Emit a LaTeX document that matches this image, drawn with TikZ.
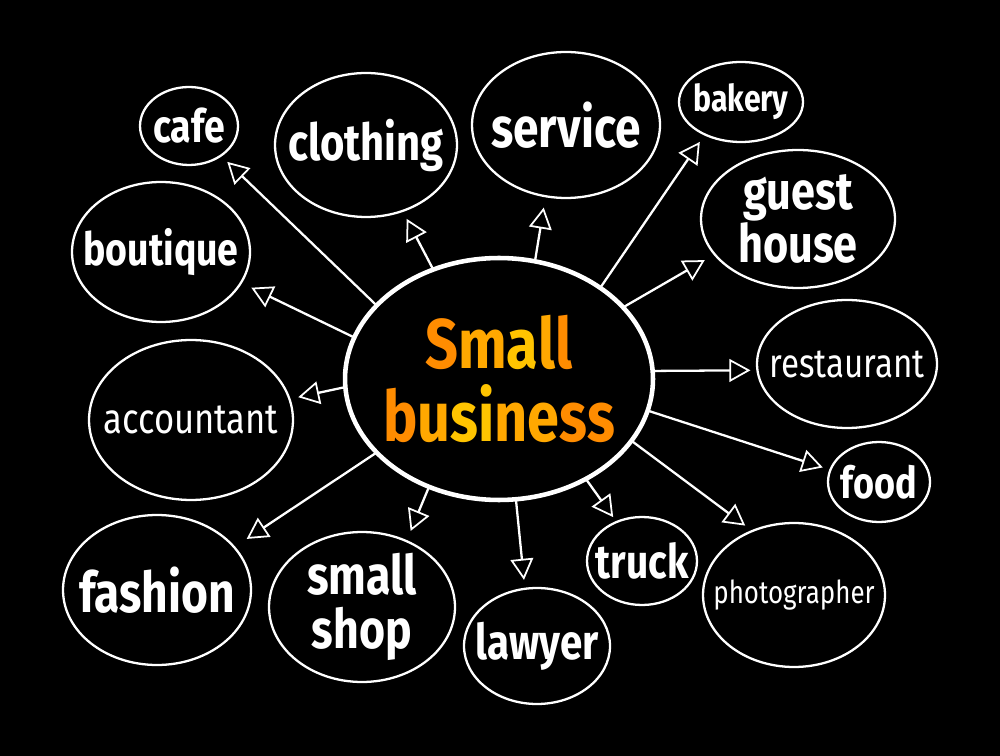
\documentclass[tikz,border=0pt]{standalone}
\usepackage{fontspec}
\usepackage{tikz}
\usetikzlibrary{shapes.geometric, arrows.meta}
\newfontfamily\handfont[FakeStretch=0.82]{Fira Sans}
\newcommand{\handbold}[1]{\handfont\bfseries\fontsize{#1}{#1}\selectfont}
\newcommand{\handthin}[1]{\handfont\fontsize{#1}{#1}\selectfont}
\definecolor{chalkwhite}{RGB}{255, 255, 255}
\definecolor{sbouter}{RGB}{255, 140, 0}
\definecolor{sbmid}{RGB}{255, 168, 0}
\definecolor{sbinner}{RGB}{255, 196, 0}

\begin{document}
\begin{tikzpicture}[x=0.02cm, y=-0.02cm,
    hub/.style={ellipse, draw=chalkwhite, line width=2.6pt, inner sep=0pt, outer sep=0pt, minimum width=6.16cm, minimum height=4.84cm},
    leaf/.style={ellipse, draw=chalkwhite, line width=1.3pt, inner sep=0pt, outer sep=0pt},
    txt/.style={text=chalkwhite, align=center, inner sep=0pt},
    conn/.style={chalkwhite, line width=1.3pt, -{Triangle[open, length=12pt, width=13pt, line width=1pt]}, shorten >=0.18cm}
]

% Board
\useasboundingbox (0,0) rectangle (1000,756);
\fill [black] (0,0) rectangle (1000,756);

% Central Idea
\node (SB) [hub, label={[txt, name=SBTXT, font=\handfont\bfseries\fontsize{40}{42}\selectfont]center:{\color{sbouter}S}{\color{sbmid}m}{\color{sbinner}a}{\color{sbmid}l}{\color{sbouter}l}\\{\color{sbouter}b}{\color{sbmid}u}{\color{sbinner}si}{\color{sbmid}ne}{\color{sbouter}ss}}] at (499,379) {};

% Top Row
\node (CAFE)     [leaf, minimum width=1.96cm, minimum height=1.56cm, label={[txt, font=\handbold{26}, name=CAFETXT]center:cafe}]         at (189,126) {};
\node (CLOTHING) [leaf, minimum width=3.64cm, minimum height=2.88cm, label={[txt, font=\handbold{29}, name=CLOTHINGTXT]center:clothing}] at (366,145) {};
\node (SERVICE)  [leaf, minimum width=3.76cm, minimum height=2.92cm, label={[txt, font=\handbold{32}, name=SERVICETXT]center:service}]   at (566,125) {};
\node (BAKERY)   [leaf, minimum width=2.48cm, minimum height=1.6cm,  label={[txt, font=\handbold{21}, name=BAKERYTXT]center:bakery}]     at (741,102) {};
\node (GUEST)    [leaf, minimum width=3.88cm, minimum height=2.76cm, label={[txt, font=\handbold{30}, name=GUESTTXT]center:guest\\house}] at (798,219) {};

% Left Side
\node (BOUTIQUE)   [leaf, minimum width=3.56cm, minimum height=2.8cm, label={[txt, font=\handbold{26}, name=BOUTIQUETXT]center:boutique}]     at (161,252) {};
\node (ACCOUNTANT) [leaf, minimum width=4.08cm, minimum height=3.2cm, label={[txt, font=\handthin{24}, name=ACCOUNTANTTXT]center:accountant}] at (191,420) {};

% Right Side
\node (RESTAURANT) [leaf, minimum width=3.6cm,  minimum height=2.56cm, label={[txt, font=\handthin{23}, name=RESTAURANTTXT]center:restaurant}] at (847,364) {};
\node (FOOD)       [leaf, minimum width=2.04cm, minimum height=1.6cm,  label={[txt, font=\handbold{25}, name=FOODTXT]center:food}]             at (879,482) {};

% Bottom Row
\node (FASHION)   [leaf, minimum width=3.76cm, minimum height=3cm,    label={[txt, font=\handbold{32}, name=FASHIONTXT]center:fashion}]       at (157,590) {};
\node (SMALLSHOP) [leaf, minimum width=3.72cm, minimum height=3cm,    label={[txt, font=\handbold{31}, name=SMALLSHOPTXT]center:small\\shop}] at (362,607) {};
\node (LAWYER)    [leaf, minimum width=2.92cm, minimum height=2.32cm, label={[txt, font=\handbold{28}, name=LAWYERTXT]center:lawyer}]         at (537,646) {};
\node (TRUCK)     [leaf, minimum width=2.2cm,  minimum height=1.76cm, label={[txt, font=\handbold{27}, name=TRUCKTXT]center:truck}]           at (642,561) {};
\node (PHOTO)     [leaf, minimum width=3.64cm, minimum height=2.88cm, label={[txt, font=\handthin{18}, name=PHOTOTXT]center:photographer}]    at (794,595) {};

% Arrows Out Of The Center
\draw [conn] (SB.149) -- (CAFE.-43.5);
\draw [conn] (SB.121) -- (CLOTHING.-61);
\draw [conn, shorten >=0.23cm] (SB.73) -- (SERVICE.-106);
\draw [conn] (SB.42) -- (BAKERY.-138.5);
\draw [conn, shorten >=0.23cm] (SB.30) -- (GUEST.-157);
\draw [conn, shorten >=0.23cm] (SB.164) -- (BOUTIQUE.-21);
\draw [conn, shorten >=0.14cm] (SB.3) -- (RESTAURANT.-176.5);
\draw [conn] (SB.-177) -- (ACCOUNTANT.12);
\draw [conn, shorten >=0.16cm] (SB.-12) -- (FOOD.166);
\draw [conn, shorten >=0.3cm] (SB.211.5) -- (FASHION.29);
\draw [conn, shorten >=0.22cm] (SB.237) -- (SMALLSHOP.56);
\draw [conn] (SB.-82) -- (LAWYER.102);
\draw [conn, shorten >=0.12cm] (SB.-49) -- (TRUCK.123);
\draw [conn] (SB.-25) -- (PHOTO.123);

\end{tikzpicture}
\end{document}
